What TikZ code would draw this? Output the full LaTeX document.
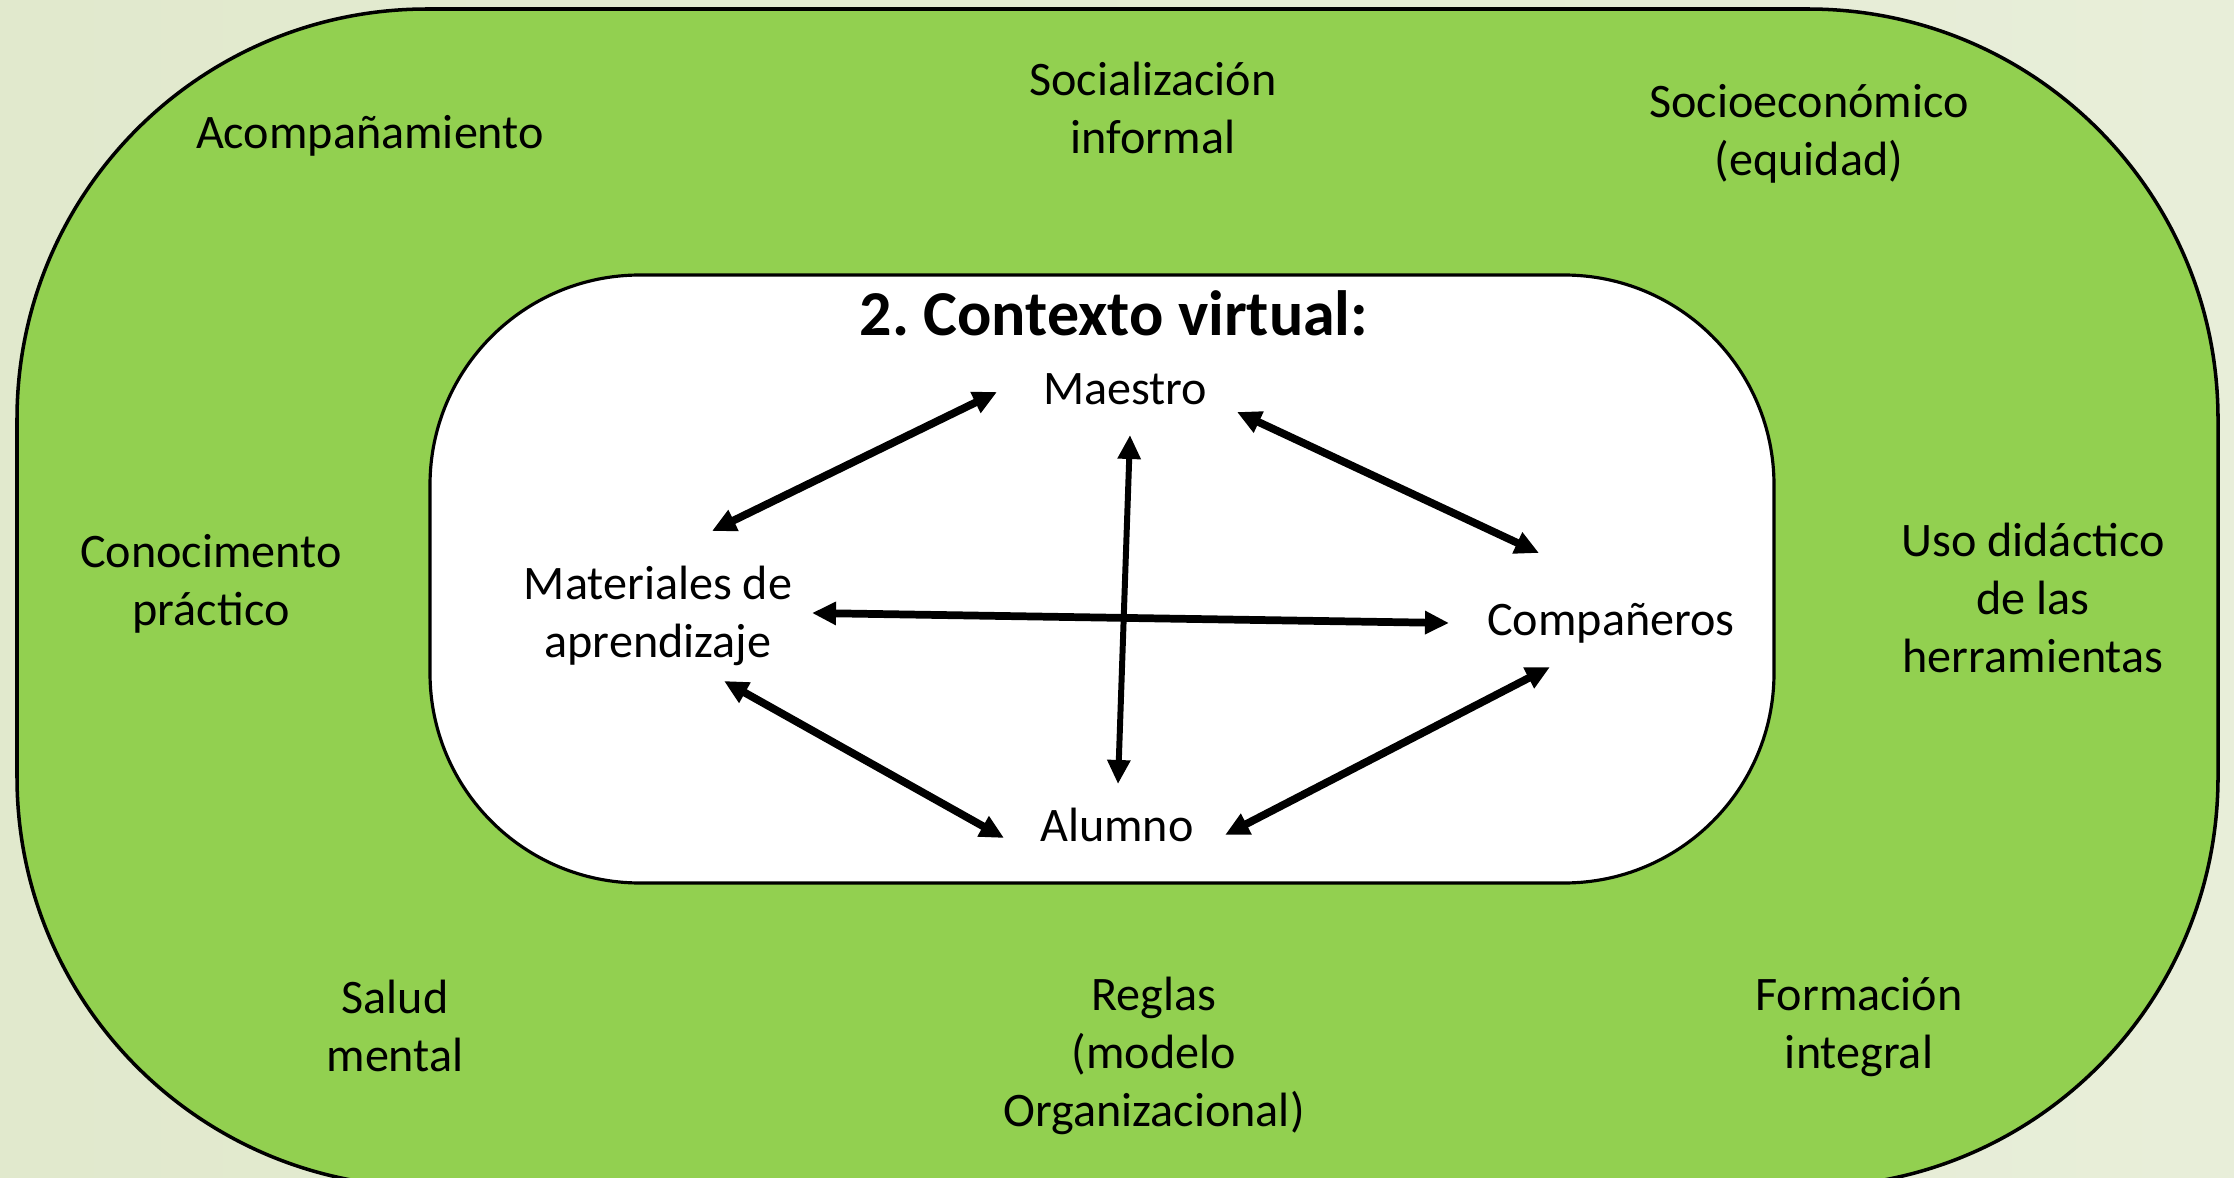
\documentclass[tikz,border=0pt]{standalone}
\usepackage{fontspec}
\setmainfont{Carlito}
\usetikzlibrary{arrows.meta}
\definecolor{fondo}{RGB}{225,233,205}
\definecolor{fondoclaro}{RGB}{232,238,217}
\definecolor{verde}{RGB}{146,208,80}

\begin{document}
\begin{tikzpicture}[
        texto/.style={inner sep=0pt, align=center, font=\fontsize{13.7}{16.6}\selectfont},
        flecha/.style={{Triangle[length=0.24cm,width=0.22cm]}-{Triangle[length=0.24cm,width=0.22cm]}, line width=2.2pt}]
    \useasboundingbox (0,0) rectangle (22.34,-11.78);
    \clip (0,0) rectangle (22.34,-11.78);
    \shade[left color=fondo, right color=fondoclaro] (0,0) rectangle (22.34,-11.78);
    \draw[fill=verde, line width=1pt, rounded corners=4.1cm] (0.17,-0.09) rectangle (22.18,-11.87);
    \draw[fill=white, line width=0.9pt, rounded corners=2.1cm] (4.30,-2.75) rectangle (17.74,-8.83);
                \node[texto] (aco) at (3.70,-1.36) {Acompañamiento};
                \node[texto] (soc) at (11.53,-1.08) {Socialización\\informal};
                \node[texto] (seco) at (18.09,-1.34) {Socioeconómico\\(equidad)};
                \node[texto] (con) at (2.11,-5.84) {Conocimento\\práctico};
                \node[texto] (uso) at (20.33,-5.98) {Uso didáctico\\de las\\herramientas};
                \node[texto] (sal) at (3.95,-10.26) {Salud\\mental};
                \node[texto] (reg) at (11.54,-10.56) {Reglas\\(modelo\\Organizacional)};
                \node[texto] (for) at (18.59,-10.27) {Formación\\integral};
                \node[inner sep=0pt, font=\fontsize{18.2}{22}\bfseries\frenchspacing] (tit) at (11.14,-3.13) {2. Contexto virtual:};
                \node[texto] (mae) at (11.25,-3.89) {Maestro};
                \node[texto] (mat) at (6.58,-6.16) {Materiales de\\aprendizaje};
                \node[texto] (comp) at (16.11,-6.23) {Compañeros};
                \node[texto] (alu) at (11.17,-8.25) {Alumno};
                \draw[flecha] ([shift={(-1.28,-0.03)}]mae.center) -- ([shift={(0.54,0.85)}]mat.center);
                \draw[flecha] ([shift={(1.12,-0.23)}]mae.center) -- ([shift={(-0.72,0.70)}]comp.center);
                \draw[flecha, line width=1.7pt] ([shift={(0.05,-0.46)}]mae.center) -- ([shift={(0.01,0.41)}]alu.center);
                \draw[flecha] ([shift={(1.54,0.03)}]mat.center) -- ([shift={(-1.62,0.00)}]comp.center);
                \draw[flecha] ([shift={(0.66,-0.65)}]mat.center) -- ([shift={(-1.13,-0.13)}]alu.center);
                \draw[flecha] ([shift={(1.08,-0.10)}]alu.center) -- ([shift={(-0.61,-0.44)}]comp.center);
\end{tikzpicture}
\end{document}
